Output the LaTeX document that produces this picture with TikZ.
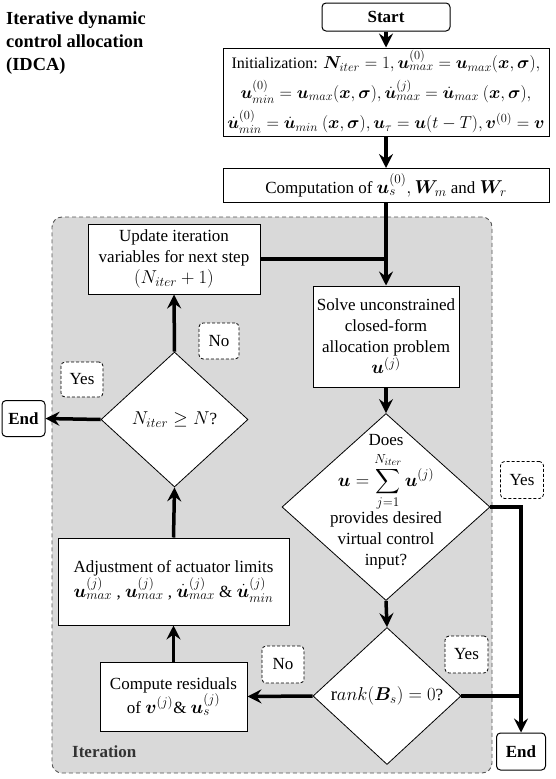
\RequirePackage{fix-cm}
\documentclass[tikz,border=0pt]{standalone}
\usepackage{amsmath}
\usepackage{bm}
\usepackage{fontspec}
\setmainfont{Liberation Serif}
\DeclareMathSizes{17}{18.6}{13.2}{10}
\DeclareMathSizes{16}{17.3}{12.4}{9.4}
\usetikzlibrary{shapes.geometric,arrows.meta}
\definecolor{regiongray}{HTML}{D9D9D9}
\definecolor{bordergray}{HTML}{555555}
\tikzset{
  box/.style={draw, line width=1pt, fill=white, align=center, inner sep=1pt},
  dia/.style={diamond, draw, line width=0.8pt, fill=white, inner sep=0pt},
  term/.style={draw, line width=1pt, rounded corners=4pt, fill=white, font=\fontsize{17}{21}\bfseries\selectfont, inner sep=0pt},
  lab/.style={draw, dashed, dash pattern=on 3pt off 2pt, line width=0.8pt, rounded corners=4pt, fill=white, inner sep=0pt},
  region/.style={draw=bordergray, fill=regiongray, dash pattern=on 4pt off 3pt, line width=0.9pt, rounded corners=10pt, inner sep=0pt},
  conn/.style={line width=3.5pt, -{Stealth[length=14pt,width=14pt,inset=5pt]}},
  plain/.style={line width=3.5pt},
}
\begin{document}
\begin{tikzpicture}[x=1pt,y=-1pt, font=\fontsize{17}{21}\selectfont]
\useasboundingbox (0,0) rectangle (555,779);
% iteration region
\node[region, minimum width=440pt, minimum height=556pt] (iter) at (272,495) {};
% title
\node[anchor=north west, align=left, font=\fontsize{18.4}{23}\bfseries\selectfont, inner sep=0pt] (title) at (6,12) {Iterative dynamic\\control allocation\\(IDCA)};
% nodes
\node[term, minimum width=128pt, minimum height=28pt] (start) at (386,17) {Start};
\node[box, minimum width=326pt, minimum height=88pt, font=\fontsize{16}{20}\selectfont] (init) at (386,92) {Initialization: $\bm{N}_{iter}=1, \bm{u}_{max}^{(0)} = \bm{u}_{max}(\bm{x},\bm{\sigma}),$\\[6pt]
$\bm{u}_{min}^{(0)} = \bm{u}_{max}(\bm{x},\bm{\sigma}), \dot{\bm{u}}_{max}^{(j)} = \dot{\bm{u}}_{max}\ (\bm{x},\bm{\sigma}),$\\[6pt]
$\dot{\bm{u}}_{min}^{(0)} = \dot{\bm{u}}_{min}\ (\bm{x},\bm{\sigma}), \bm{u}_{\tau} = \bm{u}(t-T), \bm{v}^{(0)} = \bm{v}$};
\node[box, minimum width=326pt, minimum height=34pt] (comp) at (386,185.5) {Computation of $\bm{u}_s^{(0)}, \bm{W}_m$ and $\bm{W}_r$};
\node[box, minimum width=172pt, minimum height=70pt] (update) at (174,259) {Update iteration\\variables for next step\\$(N_{iter}+1)$};
\node[box, minimum width=146pt, minimum height=101pt] (solve) at (386,336.5) {Solve unconstrained\\closed-form\\allocation problem\\$\bm{u}^{(j)}$};
\node[dia, minimum width=208pt, minimum height=187pt] (d1) at (386,507) {};
\node[align=center, inner sep=0pt] (d1text) at (386,502) {Does\\[6pt]$\displaystyle \bm{u} = \sum_{j=1}^{N_{iter}} \bm{u}^{(j)}$\\[0pt]provides desired\\virtual control\\input?};
\node[dia, minimum width=148pt, minimum height=137pt] (d2) at (387,696) {};
\node[inner sep=0pt] (d2text) at (d2.center) {$\mathrm{r}ank(\bm{B}_s) = 0$?};
\node[dia, minimum width=147pt, minimum height=135pt] (d3) at (174.5,419.5) {};
\node[inner sep=0pt] (d3text) at (d3.center) {$N_{iter} \geq N$?};
\node[box, minimum width=231pt, minimum height=87pt] (adjust) at (173.5,581.5) {Adjustment of actuator limits\\$\bm{u}_{max}^{(j)}$ , $\bm{u}_{max}^{(j)}$ , $\dot{\bm{u}}_{max}^{(j)}$ \& $\dot{\bm{u}}_{min}^{(j)}$};
\node[box, minimum width=147pt, minimum height=69pt] (compute) at (173.5,696.5) {Compute residuals\\of $\bm{v}^{(j)}$\& $\bm{u}_s^{(j)}$};
\node[term, minimum width=43pt, minimum height=36pt] (end1) at (23.5,418.5) {End};
\node[term, minimum width=49pt, minimum height=37pt] (end2) at (521,751.5) {End};
% labels
\node[lab, minimum width=42pt, minimum height=35pt] (yes1) at (82,379.5) {Yes};
\node[lab, minimum width=40pt, minimum height=36pt] (no1) at (219,341) {No};
\node[lab, minimum width=43pt, minimum height=37pt] (yes2) at (522,480) {Yes};
\node[lab, minimum width=43pt, minimum height=37pt] (yes3) at (466.5,654.5) {Yes};
\node[lab, minimum width=42pt, minimum height=37pt] (no2) at (283,664.5) {No};
\node[anchor=west, font=\fontsize{17}{20}\bfseries\selectfont, text=black!80, inner sep=0pt] (itlab) at (72,752) {Iteration};
% connectors
\draw[conn] (start.south) -- (init.north);
\draw[conn] (init.south) -- (comp.north);
\draw[conn] (comp.south) -- (solve.north);
\draw[plain] (update.east) -- (comp.south |- update.east);
\draw[conn] (solve.south) -- (d1.north);
\draw[conn] (d1.south) -- (d2.north);
\draw[conn, line join=miter] (d1.east) -- (end2.north |- d1.east) -- (end2.north);
\draw[plain] (d2.east) -- (end2.north |- d2.east);
\draw[conn] (d2.west) -- (compute.east);
\draw[conn] (compute.north) -- (adjust.south);
\draw[conn] (adjust.north) -- (d3.south);
\draw[conn] (d3.north) -- (update.south);
\draw[conn] (d3.west) -- (end1.east);
\end{tikzpicture}
\end{document}
